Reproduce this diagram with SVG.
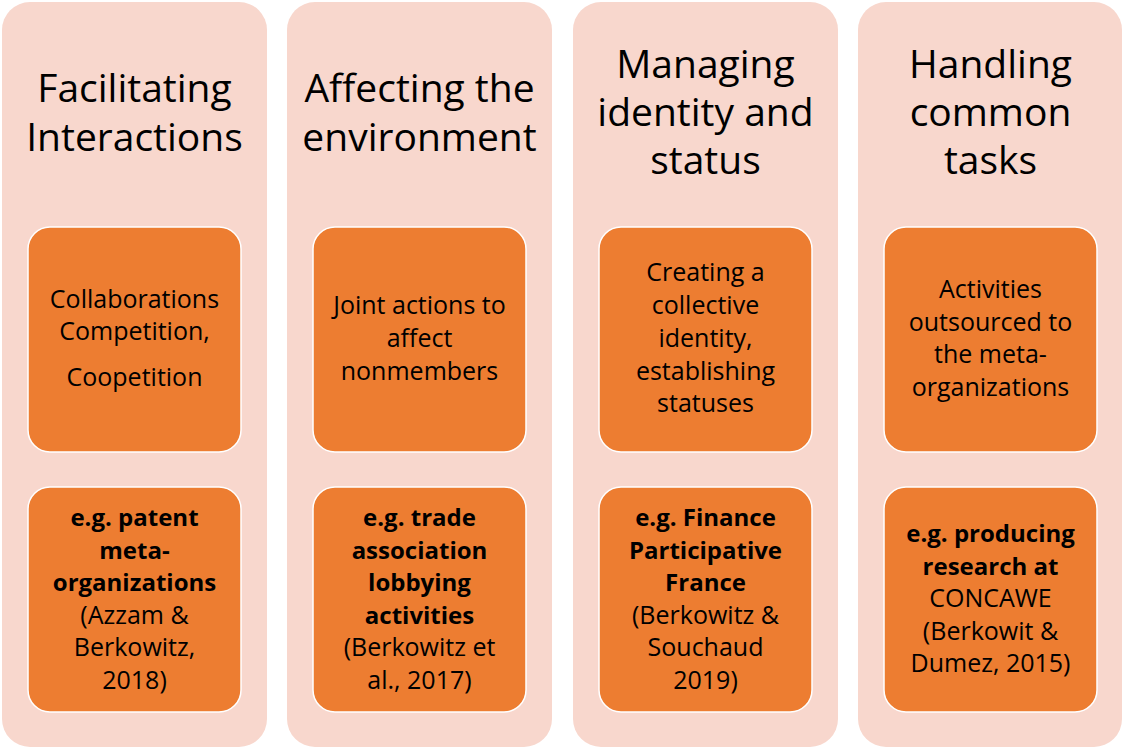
<svg xmlns="http://www.w3.org/2000/svg" width="1123" height="749" viewBox="0 0 1123 749">
<style>
.col{fill:#f8d7cd}
.box{fill:#ed7d31;stroke:#ffffff;stroke-width:1.5}
.t{font-family:"Open Sans",Lato,"Liberation Sans",sans-serif;fill:#000;text-anchor:middle}
.h{font-size:39px}
.b{font-size:25px}
.bold{font-weight:bold;font-size:24px}
</style>
<rect width="1123" height="749" fill="#ffffff"/>
<g id="col1">
<rect class="col" x="2" y="2" width="265" height="745" rx="28"/>
<text class="t h" x="134.5"><tspan x="134.5" y="102">Facilitating</tspan><tspan x="134.5" y="151">Interactions</tspan></text>
<rect class="box" x="28" y="227" width="213" height="225" rx="22"/>
<text class="t b"><tspan x="134.5" y="308">Collaborations</tspan><tspan x="134.5" y="340">Competition,</tspan><tspan x="134.5" y="386">Coopetition</tspan></text>
<rect class="box" x="28" y="487" width="213" height="225" rx="22"/>
<text class="t b"><tspan class="bold" x="134.5" y="526">e.g. patent</tspan><tspan class="bold" x="134.5" y="559">meta-</tspan><tspan class="bold" x="134.5" y="591">organizations</tspan><tspan x="134.5" y="624">(Azzam &amp;</tspan><tspan x="134.5" y="656">Berkowitz,</tspan><tspan x="134.5" y="689">2018)</tspan></text>
</g>
<g id="col2">
<rect class="col" x="287" y="2" width="265" height="745" rx="28"/>
<text class="t h"><tspan x="419.5" y="102">Affecting the</tspan><tspan x="419.5" y="151">environment</tspan></text>
<rect class="box" x="313" y="227" width="213" height="225" rx="22"/>
<text class="t b"><tspan x="419.5" y="314">Joint actions to</tspan><tspan x="419.5" y="347">affect</tspan><tspan x="419.5" y="380">nonmembers</tspan></text>
<rect class="box" x="313" y="487" width="213" height="225" rx="22"/>
<text class="t b"><tspan class="bold" x="419.5" y="526">e.g. trade</tspan><tspan class="bold" x="419.5" y="559">association</tspan><tspan class="bold" x="419.5" y="591">lobbying</tspan><tspan class="bold" x="419.5" y="624">activities</tspan><tspan x="419.5" y="656">(Berkowitz et</tspan><tspan x="419.5" y="689">al., 2017)</tspan></text>
</g>
<g id="col3">
<rect class="col" x="573" y="2" width="265" height="745" rx="28"/>
<text class="t h"><tspan x="705.5" y="78">Managing</tspan><tspan x="705.5" y="126">identity and</tspan><tspan x="705.5" y="174">status</tspan></text>
<rect class="box" x="599" y="227" width="213" height="225" rx="22"/>
<text class="t b"><tspan x="705.5" y="281">Creating a</tspan><tspan x="705.5" y="314">collective</tspan><tspan x="705.5" y="347">identity,</tspan><tspan x="705.5" y="380">establishing</tspan><tspan x="705.5" y="412">statuses</tspan></text>
<rect class="box" x="599" y="487" width="213" height="225" rx="22"/>
<text class="t b"><tspan class="bold" x="705.5" y="526">e.g. Finance</tspan><tspan class="bold" x="705.5" y="559">Participative</tspan><tspan class="bold" x="705.5" y="591">France</tspan><tspan x="705.5" y="624">(Berkowitz &amp;</tspan><tspan x="705.5" y="656">Souchaud</tspan><tspan x="705.5" y="689">2019)</tspan></text>
</g>
<g id="col4">
<rect class="col" x="858" y="2" width="264" height="745" rx="28"/>
<text class="t h"><tspan x="990.5" y="78">Handling</tspan><tspan x="990.5" y="126">common</tspan><tspan x="990.5" y="174">tasks</tspan></text>
<rect class="box" x="884" y="227" width="213" height="225" rx="22"/>
<text class="t b"><tspan x="990.5" y="298">Activities</tspan><tspan x="990.5" y="331">outsourced to</tspan><tspan x="990.5" y="363">the meta-</tspan><tspan x="990.5" y="396">organizations</tspan></text>
<rect class="box" x="884" y="487" width="213" height="225" rx="22"/>
<text class="t b"><tspan class="bold" x="990.5" y="542">e.g. producing</tspan><tspan class="bold" x="990.5" y="575">research at</tspan><tspan x="990.5" y="607">CONCAWE</tspan><tspan x="990.5" y="640">(Berkowit &amp;</tspan><tspan x="990.5" y="672">Dumez, 2015)</tspan></text>
</g>
<g id="connectors"/>
</svg>
